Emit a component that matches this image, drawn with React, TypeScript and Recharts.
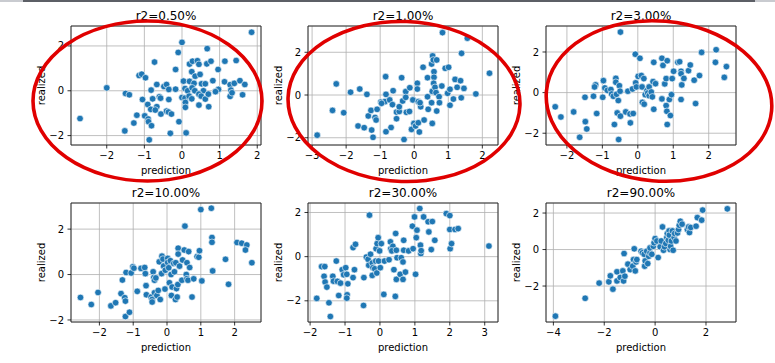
import { ScatterChart, Scatter, XAxis, YAxis, CartesianGrid, ReferenceArea } from "recharts";

// [prediction, realized] pairs
const r2_050 = [
  [1.85, 2.61], [0, 2.16], [-0.1, 1.71], [0.67, 1.88], [-0.73, 1.28], [0.2, 1.19], [0.28, 1.32], [0.41, 1.34],
  [0.45, 1.18], [0.66, 1.2], [0.77, 1.32], [1.14, 1.32], [1.44, 1.35], [-0.17, 0.95], [0.26, 0.85], [0.35, 0.65],
  [0.48, 0.73], [0.96, 0.95], [-1.14, 0.68], [-1.07, 0.74], [-0.97, 0.58], [-0.67, 0.28], [-0.48, 0.19], [-0.41, 0.28],
  [0.04, 0.43], [0.2, 0.42], [0.32, 0.33], [0.52, 0.31], [0.62, 0.31], [0.82, 0.45], [1.13, 0.4], [1.28, 0.27],
  [1.39, 0.33], [1.54, 0.45], [1.67, 0.28], [-2.0, 0.13], [-0.82, 0.03], [-0.35, 0.06], [-0.17, 0.07], [0.08, 0.1],
  [0.15, 0], [0.27, 0.13], [0.34, 0], [0.57, 0], [0.97, 0.06], [1.3, 0.03], [-1.5, -0.12], [-1.4, -0.18],
  [-1.05, -0.39], [-0.78, -0.36], [-0.6, -0.27], [-0.57, -0.33], [-0.35, -0.39], [0, -0.3], [0.08, -0.33], [0.19, -0.24],
  [0.26, -0.36], [0.45, -0.15], [0.51, -0.24], [0.62, -0.37], [0.7, -0.15], [0.89, -0.04], [1.28, -0.25], [1.33, -0.09],
  [1.61, -0.18], [-0.91, -0.61], [-0.67, -0.71], [-0.83, -0.83], [-0.71, -0.86], [-0.56, -1.04], [-0.41, -0.91], [-0.36, -0.95],
  [-0.28, -1.04], [0.09, -0.52], [0.09, -0.74], [0.45, -0.64], [0.71, -0.71], [-1.2, -1.09], [-0.99, -1.12], [-1.28, -1.44],
  [-0.9, -1.26], [-0.89, -1.38], [-0.81, -1.56], [-0.08, -1.38], [-2.71, -1.24], [-1.52, -1.79], [-0.87, -2.19], [-0.31, -1.9],
  [0.11, -1.88],
];

const r2_100 = [
  [-2.85, -1.88], [-2.4, -0.72], [-2.07, -0.83], [-2.29, 0.52], [-1.87, 0.13], [-1.6, 0.28], [-1.39, 0.03], [-1.65, -1.45],
  [-1.47, -1.53], [-1.25, -1.64], [-1.21, -1.98], [-1.35, -0.98], [-1.27, -0.72], [-1.15, -1.05], [-1.12, -1.17], [-1.09, -0.67],
  [-0.98, -0.33], [-0.86, -0.31], [-0.84, 0.86], [-0.83, 0.03], [-0.72, -0.23], [-0.62, 0.2], [-0.64, -0.45], [-0.68, -1.52],
  [-0.83, -1.72], [-0.52, -0.8], [-0.52, -1.11], [-0.44, -0.77], [-0.44, -0.55], [-0.37, 0.81], [-0.34, -0.28], [-0.3, -2.08],
  [-0.25, 0.16], [-0.25, -0.11], [-0.23, -0.81], [-0.14, -0.77], [-0.13, 0.34], [-0.08, -1.61], [-0.04, -0.23], [-0.01, -1.33],
  [0.04, -1.45], [0.09, 0.55], [0.09, 0.28], [0.12, -0.31], [0.15, -1.73], [0.19, -0.55], [0.17, -0.36], [0.12, -1.3],
  [0.26, 1.3], [0.29, -1.17], [0.39, 0.81], [0.39, -0.08], [0.41, -0.67], [0.51, 1.45], [0.54, 1.83], [0.56, 1.64],
  [0.58, 1.09], [0.58, 0.83], [0.57, 0.55], [0.53, 0.17], [0.51, -0.36], [0.53, -1.33], [0.61, 0.36], [0.64, 0.11],
  [0.66, -0.75], [0.66, 1.64], [0.73, -0.08], [0.74, -0.36], [0.83, 2.92], [0.81, 0.42], [0.91, 1.25], [1.01, 1.3],
  [0.98, 0.08], [1.05, 0.27], [1.05, -0.48], [1.15, -0.19], [1.2, 0.73], [1.26, 0.36], [1.36, 0.67], [1.39, 1.95],
  [1.38, -0.13], [1.46, 0.31], [1.56, 2.66], [1.81, 0.05], [2.21, 1.02], [-0.96, -0.39],
];

const r2_300 = [
  [-2.33, -0.7], [-2.17, -1.2], [-1.81, -0.95], [-1.64, -2.2], [-1.49, -0.23], [-1.48, -1.43], [-1.44, -1.79], [-1.25, -0.18],
  [-1.19, 0.38], [-1.22, 0.28], [-1.16, -1.03], [-0.99, -0.23], [-0.97, 0.59], [-0.93, 0.23], [-0.86, 0.11], [-0.76, 0.15],
  [-0.74, -0.07], [-0.69, -0.18], [-0.66, -1.57], [-0.62, 0.7], [-0.62, 0.51], [-0.6, -0.08], [-0.58, -1.0], [-0.55, -0.39],
  [-0.54, -2.31], [-0.52, 0.34], [-0.5, 0.07], [-0.49, 2.98], [-0.49, -1.16], [-0.34, -0.95], [-0.28, 0.07], [-0.22, -1.05],
  [-0.21, -1.49], [-0.15, 0.18], [-0.13, -1.03], [-0.07, 1.89], [-0.06, 0.48], [-0.04, 0.28], [0.01, 0.8], [0.06, 1.69],
  [0.1, 0.84], [0.12, 0.28], [0.13, -0.48], [0.17, 0.69], [0.18, -0.57], [0.21, -0.1], [0.26, 0.1], [0.28, -0.02],
  [0.32, 0.28], [0.32, -0.15], [0.38, 0.03], [0.41, -0.21], [0.43, 0.54], [0.45, -0.82], [0.45, 1.49], [0.5, 0.44],
  [0.68, -0.31], [0.68, 1.69], [0.71, 1.34], [0.76, 0.43], [0.8, 0.69], [0.8, -0.64], [0.82, -0.92], [0.83, 1.57],
  [0.83, -1.57], [0.89, -0.34], [0.92, -1.13], [0.95, -0.1], [0.97, 0.69], [1.01, 1.05], [1.13, 1.49], [1.18, 1.52],
  [1.22, 1.05], [1.22, 0.93], [1.24, 0.38], [1.22, -0.34], [1.3, 0.7], [1.43, 1.08], [1.48, 1.36], [1.59, 0.61],
  [1.63, -0.54], [1.74, 0.84], [1.8, 1.98], [2.19, 1.49], [2.21, 2.11], [2.44, 0.75], [2.5, 1.28],
];

const r2_1000 = [
  [-2.56, -1.01], [-2.24, -1.32], [-2.04, -0.79], [-1.66, -1.38], [-1.52, -1.24], [-1.36, -0.84], [-1.32, -0.24], [-1.25, -1.02],
  [-1.23, -1.17], [-1.21, 0.09], [-1.23, -1.85], [-1.11, -1.66], [-1.06, 0.07], [-1.01, 0.34], [-0.98, 0.28], [-0.88, -0.74],
  [-0.77, 0.27], [-0.66, 0.31], [-0.64, 0.04], [-0.62, -0.49], [-0.61, -0.89], [-0.47, -0.99], [-0.44, -1.1], [-0.44, -1.21],
  [-0.41, 0.12], [-0.39, -0.13], [-0.37, -0.25], [-0.37, -0.8], [-0.33, -0.15], [-0.3, -0.92], [-0.23, 0.56], [-0.26, -0.7],
  [-0.2, -1.1], [-0.15, 0.81], [-0.12, 0.68], [-0.16, 0.04], [-0.1, 0.37], [-0.05, 0.19], [-0.06, -0.64], [0.02, 0.71],
  [0.02, 0.53], [0.05, 0.3], [0.07, -0.36], [0.1, 0.61], [0.12, 0], [0.13, -0.92], [0.15, -0.55], [0.2, 0.49],
  [0.22, 0.12], [0.26, 0.52], [0.25, -1.1], [0.28, -0.62], [0.3, -0.99], [0.32, -0.44], [0.33, 1.16], [0.33, 0.9],
  [0.37, 0.37], [0.44, -0.25], [0.46, 0.64], [0.51, 1.08], [0.53, 2.13], [0.59, 0.52], [0.57, 0], [0.59, -0.18],
  [0.62, -0.25], [0.64, 1.01], [0.67, 0.31], [0.74, -0.99], [0.79, -0.19], [0.89, 0.79], [0.94, 0.76], [0.96, 1.05],
  [1.03, -0.28], [1.0, 2.86], [1.31, 2.92], [1.33, 1.63], [1.33, 1.42], [1.35, 0.16], [1.73, 0.67], [1.82, -0.43],
  [2.07, 1.41], [2.21, 1.38], [2.36, 1.3], [2.32, 1.08], [2.51, 0.52],
];

const r2_3000 = [
  [-1.81, -1.89], [-1.67, -0.45], [-1.6, -0.89], [-1.58, -0.45], [-1.57, -1.15], [-1.52, -1.38], [-1.46, -2.09], [-1.42, -2.71],
  [-1.35, -0.89], [-1.33, -1.11], [-1.25, -0.2], [-1.22, -1.12], [-1.18, -1.76], [-1.13, -1.2], [-1.08, -0.59], [-1.04, -0.82],
  [-0.98, -0.5], [-0.95, -0.8], [-0.92, -1.23], [-0.94, -1.73], [-0.95, -1.88], [-0.77, -0.95], [-0.77, 0.41], [-0.7, 0.56],
  [-0.73, -0.59], [-0.47, -2.21], [-0.46, -0.95], [-0.39, -0.02], [-0.34, -0.12], [-0.3, 1.88], [-0.32, -0.39], [-0.27, 0.11],
  [-0.22, -0.29], [-0.22, -0.85], [-0.2, -0.5], [-0.15, -0.55], [-0.12, -0.2], [-0.11, 0.36], [-0.09, -0.74], [-0.08, 0.59],
  [-0.05, 0.86], [-0.04, -0.2], [-0.01, 0.26], [0.01, -0.5], [0.04, 0.59], [0.11, -1.71], [0.13, -0.2], [0.26, -0.14],
  [0.3, 0.67], [0.31, 0.36], [0.37, 0.47], [0.34, 0.26], [0.4, -0.59], [0.44, -1.8], [0.45, 1.05], [0.47, 0.29],
  [0.47, -1.03], [0.49, -0.05], [0.58, -0.8], [0.61, -0.05], [0.66, -0.24], [0.66, -1.03], [0.68, 0.74], [0.68, 0.29],
  [0.73, -0.7], [0.82, 0.26], [0.95, 0.36], [0.93, 1.38], [0.99, 1.8], [1.02, -0.8], [1.04, 0.86], [1.06, 1.2],
  [1.14, 2.18], [1.16, 0.52], [1.17, 0.14], [1.18, 0.27], [1.25, 1.8], [1.38, 1.58], [1.4, 1.12], [1.47, 0.32],
  [1.5, 1.59], [1.57, 0.74], [1.9, 1.95], [2.0, 1.86], [2.0, 1.23], [2.01, 0.36], [2.05, 0.59], [2.15, 1.23],
  [2.24, 1.27], [3.12, 0.48],
];

const r2_9000 = [
  [-3.92, -3.65], [-2.75, -2.67], [-2.2, -1.84], [-1.82, -1.77], [-1.76, -1.44], [-1.66, -2.17], [-1.5, -1.72], [-1.5, -1.22],
  [-1.37, -1.53], [-1.27, -1.17], [-1.24, -1.72], [-1.19, -1.46], [-1.22, -0.22], [-1.07, -0.8], [-0.98, -1.1], [-0.88, -0.91],
  [-0.85, -0.55], [-0.82, 0.04], [-0.78, -1.17], [-0.75, -0.68], [-0.72, -0.55], [-0.55, -0.09], [-0.5, -0.18], [-0.43, -0.26],
  [-0.41, -0.91], [-0.39, -0.62], [-0.33, -0.09], [-0.29, -0.77], [-0.25, -0.37], [-0.2, -0.18], [-0.2, 0.09], [-0.13, -0.26],
  [-0.07, 0.18], [-0.04, 0.37], [0, 0.6], [0.07, 0.47], [0.12, -0.44], [0.2, 0.15], [0.24, 0.47], [0.29, 1.24],
  [0.33, -0.04], [0.37, 0.15], [0.42, 0.33], [0.46, 0.66], [0.48, 0.88], [0.52, 0.51], [0.55, 1.02], [0.56, 0.79],
  [0.59, 0], [0.61, 0.18], [0.64, 0.47], [0.68, 1.02], [0.71, -0.04], [0.75, 0.66], [0.77, 0.88], [0.82, 0.47],
  [0.88, 0.91], [0.92, 1.1], [0.95, 1.33], [0.99, 1.55], [1.06, 1.39], [1.27, 1.1], [1.32, 1.24], [1.35, 0.93],
  [1.4, 1.21], [1.61, 1.28], [1.66, 1.75], [1.83, 1.61], [1.87, 2.16], [2.84, 2.23],
];

const titles = ["r2=0.50%", "r2=1.00%", "r2=3.00%", "r2=10.00%", "r2=30.00%", "r2=90.00%"];
const series = [r2_050, r2_100, r2_300, r2_1000, r2_3000, r2_9000];
const xDomains = [[-2.95, 2.1], [-3.12, 2.46], [-2.59, 2.77], [-2.84, 2.78], [-2.06, 3.38], [-4.29, 3.18]];
const yDomains = [[-2.42, 2.89], [-2.34, 3.23], [-2.58, 3.28], [-2.09, 3.15], [-2.96, 2.43], [-3.97, 2.55]];
const xTickSets = [[-2, -1, 0, 1, 2], [-3, -2, -1, 0, 1, 2], [-2, -1, 0, 1, 2], [-2, -1, 0, 1, 2], [-2, -1, 0, 1, 2, 3], [-4, -2, 0, 2]];
const yTicks = [-2, 0, 2];

const colLefts = [71, 308, 546];
const rowTops = [26, 203];

const fmt = (v: number) => (v < 0 ? `\u2212${-v}` : `${v}`);

const Dot = (p: any) => (
  <circle cx={p.cx} cy={p.cy} r={3.3} fill="#1f77b4" stroke="#fff" strokeWidth={0.6} />
);

function Panel({ i }: { i: number }) {
  const left = colLefts[i % 3];
  const top = rowTops[Math.floor(i / 3)];
  const data = series[i].map(([x, y]) => ({ x, y }));
  const [x0, x1] = xDomains[i];
  const [y0, y1] = yDomains[i];
  return (
    <div style={{ position: "absolute", left: left - 71, top: top - 26, width: 271, height: 177 }}>
      <div
        style={{
          position: "absolute",
          left: 71,
          width: 190,
          top: 9.3,
          fontSize: 12,
          lineHeight: "14px",
          textAlign: "center",
          color: "#000",
        }}
      >
        {titles[i]}
      </div>
      <ScatterChart width={271} height={177} margin={{ top: 26, right: 10, bottom: 2, left: 0 }}>
        <CartesianGrid stroke="#b0b0b0" strokeWidth={0.8} />
        <XAxis
          type="number"
          dataKey="x"
          domain={[x0, x1]}
          ticks={xTickSets[i]}
          allowDataOverflow
          height={30}
          axisLine={false}
          tickSize={3.5}
          tickMargin={3.5}
          tickLine={{ stroke: "#000", strokeWidth: 0.8 }}
          tick={{ fill: "#000", fontSize: 10 }}
          tickFormatter={fmt}
          label={{ value: "prediction", position: "insideBottom", offset: 1, fill: "#000", fontSize: 10 }}
        />
        <YAxis
          type="number"
          dataKey="y"
          domain={[y0, y1]}
          ticks={yTicks}
          allowDataOverflow
          width={71}
          axisLine={false}
          tickSize={3.5}
          tickMargin={3.5}
          tickLine={{ stroke: "#000", strokeWidth: 0.8 }}
          tick={{ fill: "#000", fontSize: 10 }}
          tickFormatter={fmt}
          label={{
            value: "realized",
            angle: -90,
            position: "insideLeft",
            offset: 41,
            fill: "#000",
            fontSize: 10,
            style: { textAnchor: "middle" },
          }}
        />
        <Scatter data={data} isAnimationActive={false} shape={Dot} />
        <ReferenceArea x1={x0} x2={x1} y1={y0} y2={y1} fill="none" stroke="#222" strokeWidth={0.9} ifOverflow="visible" />
      </ScatterChart>
    </div>
  );
}

export default function App() {
  return (
    <div
      style={{
        position: "absolute",
        left: 0,
        top: 0,
        width: 775,
        height: 363,
        background: "#fff",
        overflow: "hidden",
        fontFamily: "'DejaVu Sans', sans-serif",
      }}
    >
      <div style={{ position: "absolute", left: 0, top: 0, width: 775, height: 2, background: "#5c5f66" }} />
      <div style={{ position: "absolute", left: 0, top: 0, width: 23, height: 2, background: "#c9cbd0" }} />
      <div style={{ position: "absolute", left: 755, top: 0, width: 20, height: 2, background: "#c9cbd0" }} />
      {[0, 1, 2, 3, 4, 5].map((i) => (
        <Panel key={i} i={i} />
      ))}
      <svg width={775} height={363} style={{ position: "absolute", left: 0, top: 0, pointerEvents: "none" }}>
        <g fill="none" stroke="#e00000" strokeWidth={3.6}>
          <ellipse cx={147.5} cy={101} rx={114.5} ry={80} />
          <ellipse cx={404} cy={101.5} rx={116} ry={80} transform="rotate(2 404 101.5)" />
          <ellipse cx={659} cy={101} rx={113} ry={80} transform="rotate(5 659 101)" />
        </g>
      </svg>
    </div>
  );
}
